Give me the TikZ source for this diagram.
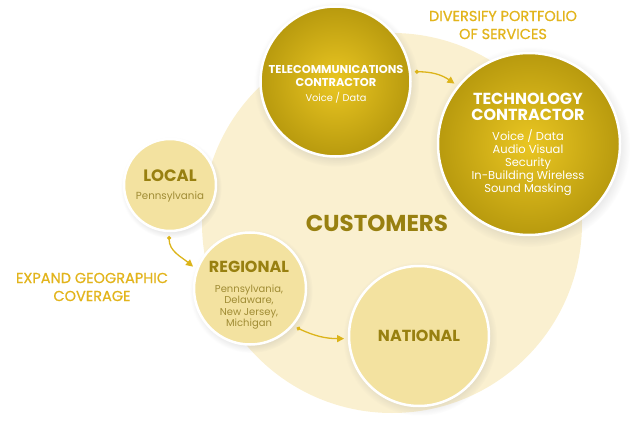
\documentclass[tikz,border=0pt]{standalone}
\usepackage{fontspec}
\setmainfont{Poppins}
\newfontfamily\medfont[FakeBold=0.8]{Poppins}
\usetikzlibrary{arrows.meta,shadows}
\definecolor{custpale}{RGB}{250,240,208}
\definecolor{goldlight}{RGB}{234,198,34}
\definecolor{golddark}{RGB}{184,154,14}
\definecolor{regionfill}{RGB}{243,226,160}
\definecolor{olivetext}{RGB}{152,128,16}
\definecolor{subtext}{RGB}{160,140,52}
\definecolor{labelgold}{RGB}{226,180,28}
\definecolor{arrowgold}{RGB}{220,180,26}

\begin{document}
\begin{tikzpicture}[x=1pt,y=1pt,
    goldcircle/.style={circle, draw=white, line width=2.5pt, inner sep=0pt, outer sep=5pt,
      shade, inner color=goldlight, outer color=golddark,
      circular drop shadow={shadow xshift=1pt, shadow yshift=-2.5pt, opacity=0.22}},
    palecircle/.style={circle, draw=white, line width=2.5pt, inner sep=0pt, outer sep=5pt,
      fill=regionfill,
      circular drop shadow={shadow xshift=1pt, shadow yshift=-2.5pt, opacity=0.2}},
    flow/.style={{Circle[length=4pt]}-{Triangle[length=7pt,width=7pt]}, arrowgold, line width=1.3pt},
    headtext/.style={align=center, text=olivetext, font=\fontsize{#1}{#1}\selectfont\bfseries},
    smalltext/.style={align=center, text=subtext, font=\fontsize{#1}{11.5}\selectfont},
    sidetext/.style={align=center, text=labelgold, font=\fontsize{14.5}{18}\medfont}]
  \useasboundingbox (0,0) rectangle (640,424);

  % Customers background
  \node[circle, fill=custpale, minimum size=380pt, inner sep=0pt] (cust) at (392,201) {};
  \node[headtext=23] (custlabel) at (377,201) {CUSTOMERS};

  % Services side
  \node[goldcircle, minimum size=150pt] (tele) at (335.5,342.5) {};
  \node[align=center, text=white, font=\fontsize{11.4}{13}\selectfont\bfseries] (teletitle) at (336,348.5) {TELECOMMUNICATIONS\\CONTRACTOR};
  \node[text=white, font=\fontsize{9.8}{10}\selectfont] (teleitems) at (336,326) {Voice / Data};

  \node[goldcircle, minimum size=182pt] (tech) at (529,280) {};
  \node[align=center, text=white, font=\fontsize{16}{16}\selectfont\bfseries] (techtitle) at (528,317) {TECHNOLOGY\\CONTRACTOR};
  \node[align=center, text=white, font=\fontsize{11.5}{13}\selectfont] (techitems) at (528,261)
    {Voice / Data\\Audio Visual\\Security\\In-Building Wireless\\Sound Masking};

  \node[sidetext] (diversify) at (503,399) {DIVERSIFY PORTFOLIO\\OF SERVICES};

  % Geographic side
  \node[palecircle, minimum size=92pt] (local) at (170,239) {};
  \node[headtext=16.5] (localtitle) at (170,248) {LOCAL};
  \node[smalltext=10.3] (localitems) at (170,227) {Pennsylvania};

  \node[palecircle, minimum size=112pt] (regional) at (250,135.5) {};
  \node[headtext=16] (regionaltitle) at (249,157) {REGIONAL};
  \node[smalltext=10] (regionalitems) at (249,117) {Pennsylvania,\\Delaware,\\New Jersey,\\Michigan};

  \node[palecircle, minimum size=140pt] (national) at (419,88) {};
  \node[headtext=16] (nationaltitle) at (419,88) {NATIONAL};

  \node[sidetext] (expand) at (92,137) {EXPAND GEOGRAPHIC\\COVERAGE};

  % Growth arrows
  \draw[flow] (tele.7) to[out=0, in=145] (tech.141);
  \draw[flow] (local.269) to[out=270, in=140] (regional.159);
  \draw[flow] (regional.320) to[out=-25, in=180] (national.182);
\end{tikzpicture}
\end{document}
